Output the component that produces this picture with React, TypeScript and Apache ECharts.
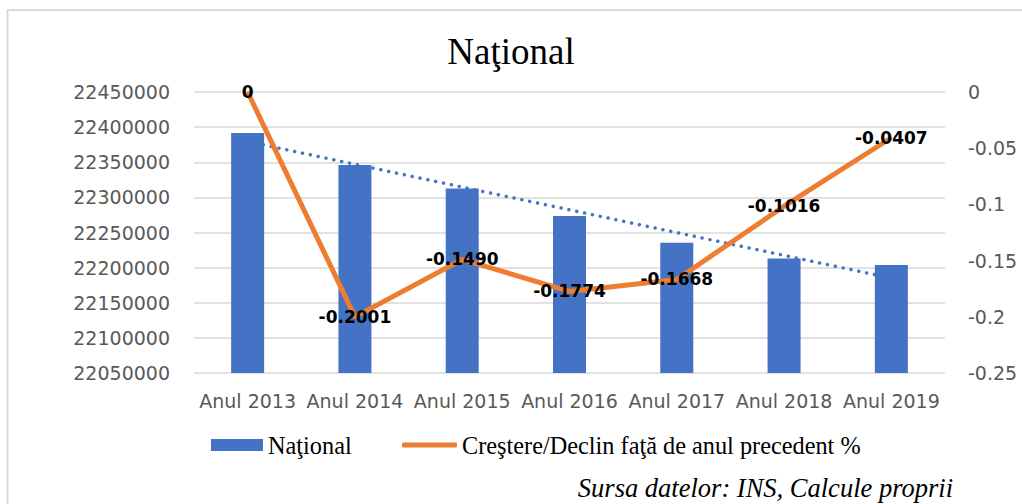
import React, { useEffect, useRef } from "react";
import * as echarts from "echarts";

const categories = ["Anul 2013", "Anul 2014", "Anul 2015", "Anul 2016", "Anul 2017", "Anul 2018", "Anul 2019"];
const nationalValues = [22391600, 22346000, 22312800, 22273400, 22235300, 22213100, 22203600];
const changeValues = [0, -0.2001, -0.149, -0.1774, -0.1668, -0.1016, -0.0407];
const changeLabels = ["0", "-0.2001", "-0.1490", "-0.1774", "-0.1668", "-0.1016", "-0.0407"];
// linear trend of the bars, endpoints
const trendValues = [22379500, null, null, null, null, null, 22185000];

const titleText = "Naţional";
const barName = "Naţional";
const lineName = "Creştere/Declin faţă de anul precedent %";
const sourceText = "Sursa datelor: INS, Calcule proprii";

export default function App() {
  const ref = useRef<HTMLDivElement>(null);
  useEffect(() => {
    document.body.style.margin = "0";
    const chart = echarts.init(ref.current!, undefined, { renderer: "svg" });
    const axisFont = { color: "#595959", fontFamily: "DejaVu Sans", fontSize: 19 };
    const legendFont = { fontFamily: "Liberation Serif", fontSize: 24.3, color: "#000" };
    chart.setOption({
      animation: false,
      backgroundColor: "#ffffff",
      title: {
        text: titleText,
        left: "center",
        top: 28,
        textStyle: { fontFamily: "Liberation Serif", fontSize: 37, fontWeight: "normal", color: "#000" },
      },
      legend: [
        {
          data: [{ name: barName, icon: "rect" }],
          left: 211,
          top: 433,
          padding: 0,
          itemWidth: 52,
          itemHeight: 12,
          textStyle: legendFont,
          selectedMode: false,
        },
        {
          data: [{ name: lineName, icon: "roundRect" }],
          left: 402,
          top: 433,
          padding: 0,
          itemWidth: 55,
          itemHeight: 5,
          textStyle: legendFont,
          selectedMode: false,
        },
      ],
      grid: { left: 194, right: 77, top: 92, bottom: 131 },
      xAxis: {
        type: "category",
        data: categories,
        axisLine: { show: false },
        axisTick: { show: false },
        axisLabel: { ...axisFont, margin: 18, interval: 0 },
      },
      yAxis: [
        {
          type: "value",
          min: 22050000,
          max: 22450000,
          interval: 50000,
          axisLine: { show: false },
          axisTick: { show: false },
          axisLabel: { ...axisFont, margin: 24, formatter: (v: number) => String(v) },
          splitLine: { lineStyle: { color: "#d9d9d9", width: 1.5 } },
        },
        {
          type: "value",
          min: -0.25,
          max: 0,
          interval: 0.05,
          position: "right",
          axisLine: { show: false },
          axisTick: { show: false },
          axisLabel: { ...axisFont, margin: 23 },
          splitLine: { show: false },
        },
      ],
      series: [
        {
          name: "trend",
          type: "line",
          data: trendValues,
          connectNulls: true,
          symbol: "none",
          z: 2,
          lineStyle: { color: "#4472C4", width: 3.5, type: [0.01, 8], cap: "round" },
          silent: true,
        },
        {
          name: barName,
          type: "bar",
          data: nationalValues,
          barWidth: 33,
          z: 3,
          itemStyle: { color: "#4472C4" },
        },
        {
          name: lineName,
          type: "line",
          yAxisIndex: 1,
          data: changeValues,
          symbol: "circle",
          symbolSize: 1,
          z: 4,
          itemStyle: { color: "#ED7D31" },
          lineStyle: { color: "#ED7D31", width: 5 },
          label: {
            show: true,
            position: "inside",
            formatter: (p: any) => changeLabels[p.dataIndex],
            fontFamily: "DejaVu Sans",
            fontWeight: "bold",
            fontSize: 17,
            color: "#000",
          },
        },
      ],
      graphic: [
        {
          type: "rect",
          shape: { x: 7.5, y: 10, width: 1100, height: 600 },
          style: { fill: "none", stroke: "#d9d9d9", lineWidth: 2 },
          silent: true,
        },
        {
          type: "text",
          x: 953,
          y: 488,
          style: {
            text: sourceText,
            fontFamily: "Liberation Serif",
            fontStyle: "italic",
            fontSize: 26.5,
            fill: "#000",
            textAlign: "right",
            textVerticalAlign: "middle",
          },
        },
      ],
    });
    return () => chart.dispose();
  }, []);
  return <div ref={ref} style={{ width: 1022, height: 504 }} />;
}
